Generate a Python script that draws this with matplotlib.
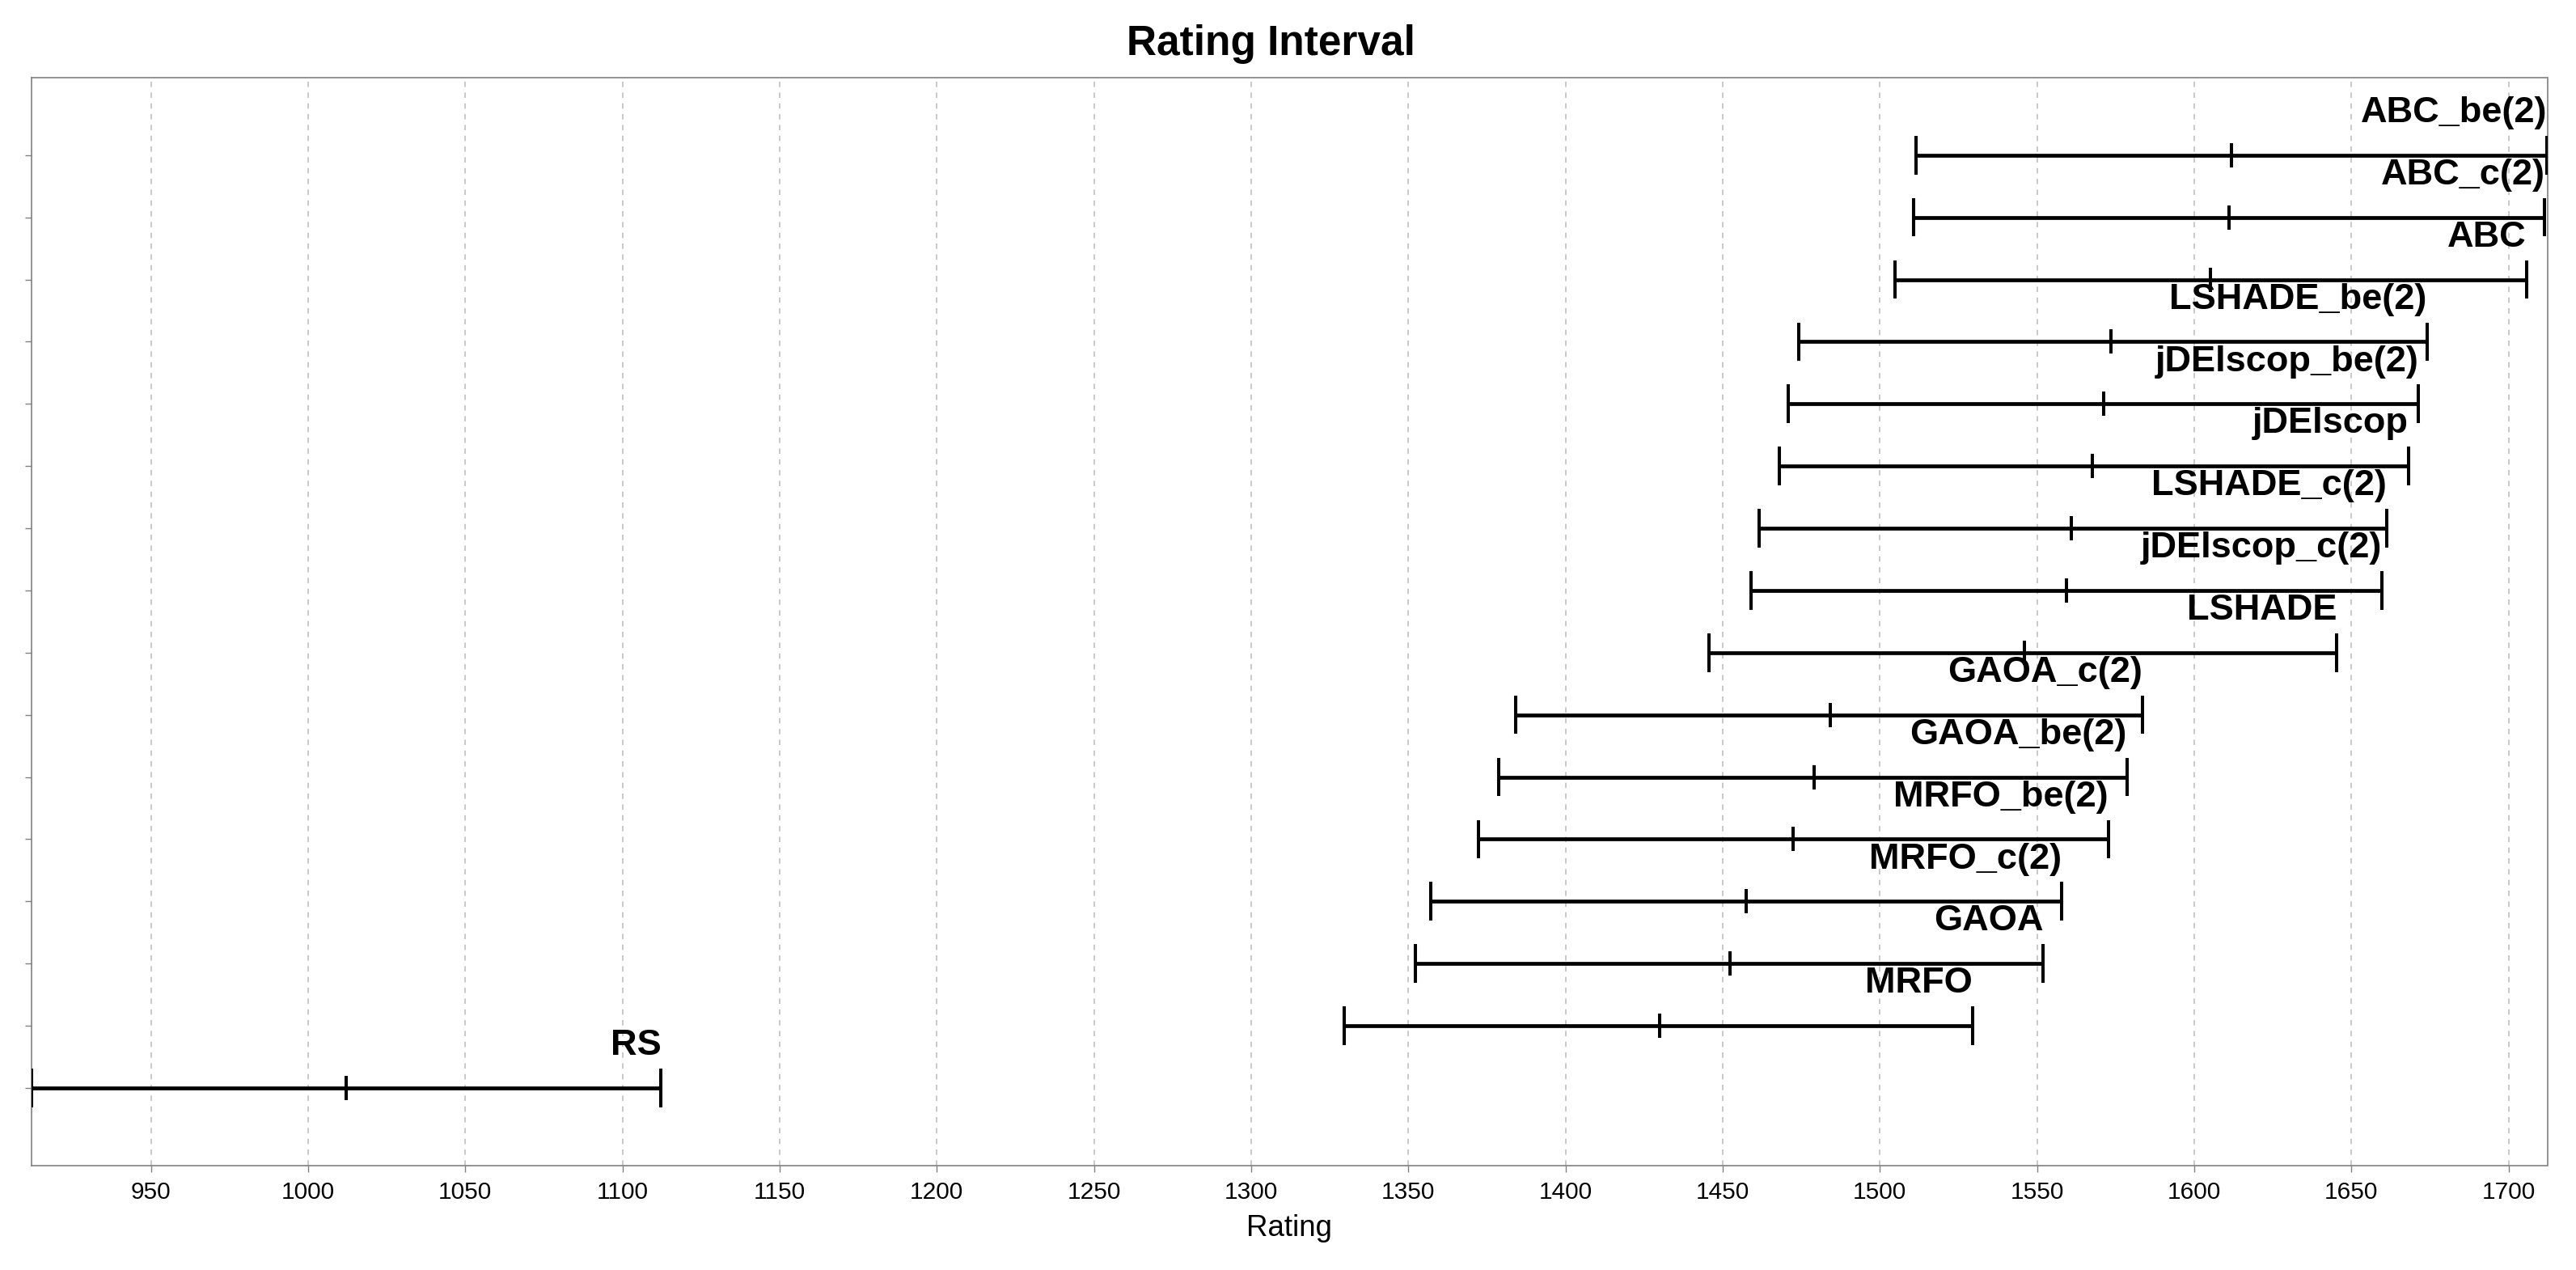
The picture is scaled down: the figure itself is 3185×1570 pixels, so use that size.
import matplotlib
matplotlib.use('Agg')
from matplotlib import pyplot as plt
import numpy as np

plt.rcParams['font.family'] = ['Liberation Sans', 'DejaVu Sans']

# bottom row first
names = ['RS', 'MRFO', 'GAOA', 'MRFO_c(2)', 'MRFO_be(2)', 'GAOA_be(2)',
         'GAOA_c(2)', 'LSHADE', 'jDElscop_c(2)', 'LSHADE_c(2)', 'jDElscop',
         'jDElscop_be(2)', 'LSHADE_be(2)', 'ABC', 'ABC_c(2)', 'ABC_be(2)']
rating = [1012.1, 1430.0, 1452.4, 1457.4, 1472.3, 1479.1,
          1484.3, 1546.0, 1559.4, 1560.9, 1567.5,
          1571.1, 1573.5, 1605.2, 1611.1, 1611.9]
lower = [912.0, 1329.6, 1352.2, 1357.2, 1372.2, 1378.8,
         1384.0, 1445.7, 1458.9, 1461.6, 1468.1,
         1470.8, 1474.1, 1504.9, 1510.8, 1511.5]
upper = [1112.3, 1529.4, 1552.0, 1557.8, 1572.6, 1578.6,
         1583.6, 1645.4, 1659.7, 1661.3, 1668.1,
         1671.3, 1674.0, 1705.7, 1711.5, 1712.3]
xticks = list(range(950, 1701, 50))

W, H = 3185, 1570
fig = plt.figure(figsize=(W / 100.0, H / 100.0), dpi=100)
ax = fig.add_axes([39.0 / W, 1 - 1441.0 / H, (3149.5 - 39.0) / W, (1441.0 - 95.7) / H])

y = np.arange(len(names))
cap = 0.31
mid = 0.195
for i in range(len(names)):
    ax.plot([lower[i], upper[i]], [y[i], y[i]], color='black', lw=3.4,
            solid_capstyle='butt', zorder=3)
    ax.plot([lower[i], lower[i]], [y[i] - cap, y[i] + cap], color='black', lw=2.9,
            solid_capstyle='butt', zorder=3)
    ax.plot([upper[i], upper[i]], [y[i] - cap, y[i] + cap], color='black', lw=2.9,
            solid_capstyle='butt', zorder=3)
    ax.plot([rating[i], rating[i]], [y[i] - mid, y[i] + mid], color='black', lw=2.9,
            solid_capstyle='butt', zorder=3)
    ax.text(upper[i], y[i] + 0.53, names[i], ha='right', va='baseline',
            fontsize=32.5, fontweight='bold', color='black', zorder=4)

ax.set_xlim(min(lower), max(upper))
ax.set_ylim(-1.25, len(names) - 1 + 1.25)
ax.set_xticks(xticks)
ax.set_yticks(y)
ax.set_yticklabels([])
ax.tick_params(axis='x', labelsize=21.5, length=5.8, width=1.0, color='#808080', pad=8)
ax.tick_params(axis='y', length=5.8, width=1.0, color='#808080')
ax.xaxis.grid(True, linestyle=(0, (4.0, 4.0)), color='#c0c0c0', linewidth=1.2, zorder=0)
ax.set_axisbelow(True)
for s in ax.spines.values():
    s.set_color('#808080')
    s.set_linewidth(1.2)

ax.set_xlabel('Rating', fontsize=26.5, labelpad=9)
fig.text(1571.0 / W, 1 - 68.0 / H, 'Rating Interval', ha='center', va='baseline',
         fontsize=37, fontweight='bold')

plt.savefig('out.png', dpi=100)
